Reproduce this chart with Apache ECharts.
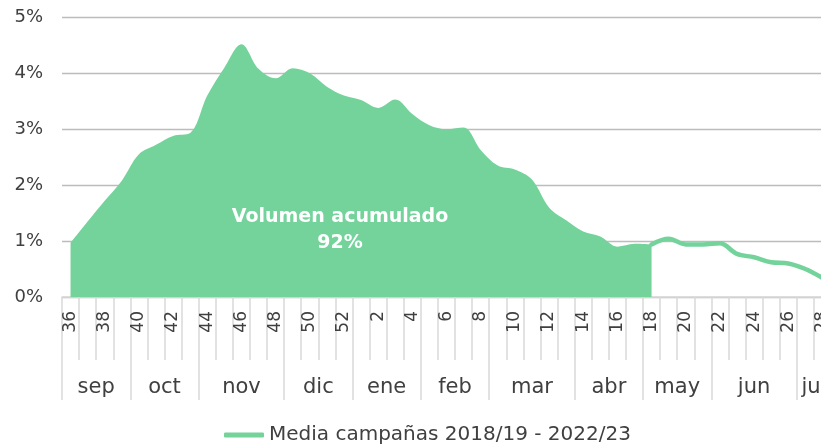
<!DOCTYPE html>
<html><head><meta charset="utf-8">
<script src="https://cdn.jsdelivr.net/npm/echarts@6/dist/echarts.min.js"></script>
<style>html,body{margin:0;padding:0;background:#fff}#c{width:821px;height:445px}</style>
</head><body><div id="c"></div>
<script>
// ---- data ----
const weeks = ['36','37','38','39','40','41','42','43','44','45','46','47','48','49','50','51','52',
  '1','2','3','4','5','6','7','8','9','10','11','12','13','14','15','16','17','18','19','20',
  '21','22','23','24','25','26','27','28'];
const media = [0.97,1.35,1.72,2.08,2.55,2.72,2.88,2.93,3.60,4.10,4.52,4.08,3.91,4.09,4.00,3.76,3.60,
  3.52,3.38,3.53,3.27,3.07,3.00,3.03,2.63,2.35,2.28,2.10,1.60,1.37,1.17,1.08,0.90,0.95,0.94,1.04,0.94,
  0.94,0.96,0.77,0.71,0.62,0.60,0.50,0.34];
const lastAccumWeek = '18';
const monthNames = ['sep','oct','nov','dic','ene','feb','mar','abr','may','jun','jul'];
const monthWeeks = [4,4,5,4,4,4,5,4,4,5,2];
const yTicks = [0,1,2,3,4,5];
const seriesName = 'Media campañas 2018/19 - 2022/23';
const annotation = ['Volumen acumulado','92%'];

// ---- derived ----
const cut = weeks.indexOf(lastAccumWeek);
const areaData = media.map((v,i)=> i<=cut ? v : null);
const lineData = media.map((v,i)=> i>=cut ? v : null);
const halfSteps = Array.from({length: weeks.length*2+1}, (_,i)=>'h'+i);
const boundaryIdx = new Set();
const centerLabel = {};
let start = 0;
monthNames.forEach((m,k)=>{
  boundaryIdx.add(2*start);
  centerLabel[2*start + monthWeeks[k]] = m;
  start += monthWeeks[k];
});

const GREEN = '#74D39B';
const TXT = '#404040';
const FONT = 'DejaVu Sans';
const gridPos = {left: 62, right: -10, top: 17.3, bottom: 148, outerBoundsMode: 'none', containLabel: false};

const chart = echarts.init(document.getElementById('c'), null, {renderer:'canvas'});
chart.setOption({
  animation: false,
  textStyle: {fontFamily: FONT, color: TXT},
  grid: [Object.assign({}, gridPos), Object.assign({}, gridPos)],
  legend: {
    data: [seriesName], left: 219, top: 420, itemWidth: 40, itemHeight: 5, itemGap: 10,
    icon: 'roundRect',
    textStyle: {fontFamily: FONT, fontSize: 20, color: TXT}
  },
  xAxis: [{
    type: 'category', gridIndex: 0, data: weeks, boundaryGap: true,
    axisLine: {show: true, lineStyle: {color: '#d9d9d9', width: 1.5}},
    axisTick: {show: true, interval: 0, length: 63, lineStyle: {color: '#d9d9d9', width: 1.5}},
    axisLabel: {interval: 1, rotate: 90, margin: 14, fontSize: 17, color: TXT, fontFamily: FONT}
  },{
    type: 'category', gridIndex: 1, data: halfSteps, boundaryGap: false,
    axisLine: {show: false},
    axisTick: {show: true, interval: (i)=> boundaryIdx.has(i), length: 103, lineStyle: {color: '#d9d9d9', width: 1.5}},
    axisLabel: {interval: (i)=> centerLabel[i] !== undefined, formatter: (v,i)=> centerLabel[i] || '',
      margin: 80, fontSize: 21, color: TXT, fontFamily: FONT}
  }],
  yAxis: [{
    type: 'value', gridIndex: 0, min: yTicks[0], max: yTicks[yTicks.length-1], interval: 1,
    axisLine: {show: false}, axisTick: {show: false},
    axisLabel: {formatter: '{value}%', margin: 19, fontSize: 18, color: TXT, fontFamily: FONT},
    splitLine: {lineStyle: {color: '#bcbcbc', width: 1.4}}
  },{
    type: 'value', gridIndex: 1, show: false, min: 0, max: 1
  }],
  graphic: [{
    type: 'text', x: 340, y: 230, z: 100,
    style: {text: annotation.join('\n'), align: 'center', verticalAlign: 'middle',
      fontFamily: FONT, fontSize: 19, fontWeight: 'bold', lineHeight: 26, fill: '#ffffff'}
  }],
  series: [{
    name: 'area', type: 'line', xAxisIndex: 0, yAxisIndex: 0, data: areaData,
    smooth: 0.35, symbol: 'none', lineStyle: {width: 0},
    areaStyle: {color: GREEN, opacity: 1}, z: 2
  },{
    name: seriesName, type: 'line', xAxisIndex: 0, yAxisIndex: 0, data: lineData,
    smooth: 0.35, symbol: 'none', lineStyle: {color: GREEN, width: 4.5, cap: 'round'},
    itemStyle: {color: GREEN}, z: 3
  }]
});
</script></body></html>
